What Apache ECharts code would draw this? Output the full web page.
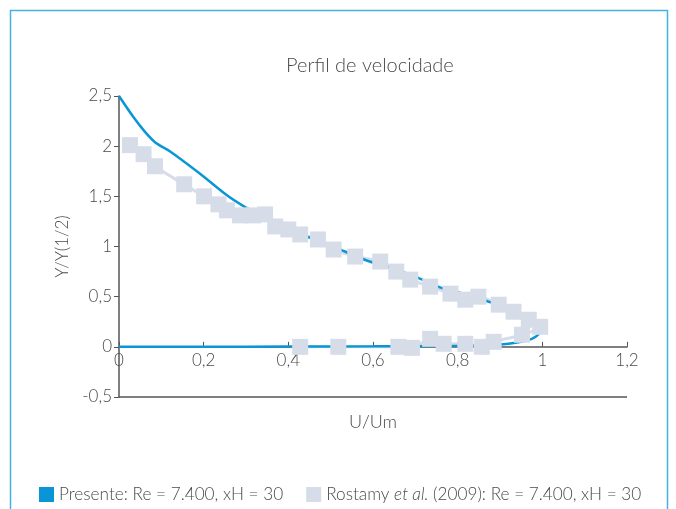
<!DOCTYPE html>
<html>
<head>
<meta charset="utf-8">
<script src="https://cdn.jsdelivr.net/npm/echarts@6/dist/echarts.min.js"></script>
<style>
html,body{margin:0;padding:0;background:#fff;}
#chart{width:676px;height:509px;}
</style>
</head>
<body>
<div id="chart"></div>
<script>
const titleText = 'Perfil de velocidade';
const xName = 'U/Um';
const yName = 'Y/Y(1/2)';
const seriesNames = ['Presente: Re = 7.400, xH = 30', 'Rostamy et al. (2009): Re = 7.400, xH = 30'];

const xMin = 0, xMax = 1.2, xStep = 0.2;
const yMin = -0.5, yMax = 2.5, yStep = 0.5;

const presenteX = [0, 0.034, 0.058, 0.085, 0.12, 0.19, 0.255, 0.295, 0.35, 0.40,
  0.45, 0.50, 0.534, 0.585, 0.64, 0.70, 0.76, 0.82, 0.88, 0.93,
  0.97, 0.995, 0.99, 0.975, 0.95, 0.92, 0.88, 0.80, 0.70, 0.60,
  0.40, 0.20, 0];
const presenteY = [2.5, 2.29, 2.16, 2.04, 1.95, 1.73, 1.51, 1.40, 1.27, 1.17,
  1.09, 1.01, 0.95, 0.86, 0.79, 0.70, 0.59, 0.52, 0.44, 0.35,
  0.26, 0.18, 0.12, 0.08, 0.05, 0.03, 0.015, 0.01, 0.007, 0.005,
  0.003, 0.001, 0];

const rostamyX = [0.026, 0.058, 0.085, 0.154, 0.201, 0.235, 0.255, 0.286, 0.317, 0.345,
  0.369, 0.40, 0.428, 0.47, 0.507, 0.558, 0.617, 0.655, 0.688, 0.735,
  0.783, 0.818, 0.849, 0.897, 0.932, 0.968, 0.995,
  0.952, 0.885, 0.857, 0.818, 0.767, 0.735, 0.692, 0.66, 0.518, 0.428];
const rostamyY = [2.01, 1.92, 1.80, 1.62, 1.50, 1.42, 1.36, 1.31, 1.31, 1.32,
  1.20, 1.17, 1.12, 1.07, 0.97, 0.90, 0.85, 0.75, 0.67, 0.60,
  0.53, 0.47, 0.50, 0.42, 0.35, 0.27, 0.20,
  0.12, 0.05, 0.00, 0.03, 0.03, 0.08, -0.01, 0.00, 0.00, 0.00];

const blue = '#0a96d6';
const light = '#d6dde9';
const textColor = '#4a4a4a';
const axisColor = '#555';
const FONT = 'Lato';

const GRID = {left: 119, right: 49, top: 96, bottom: 112};
const gridHeight = 509 - GRID.top - GRID.bottom;
// shift the x axis up so it crosses the y axis at 0
const xAxisOffset = -((0 - yMin) / (yMax - yMin)) * gridHeight;

const presenteData = presenteX.map((x, i) => [x, presenteY[i]]);
const rostamyData = rostamyX.map((x, i) => [x, rostamyY[i]]);
const fmt = v => String(Math.round(v * 10) / 10).replace('.', ',');

const chart = echarts.init(document.getElementById('chart'), null, {renderer: 'canvas'});
chart.setOption({
  animation: false,
  backgroundColor: '#fff',
  textStyle: {fontFamily: FONT},
  graphic: [{
    type: 'rect', silent: true, z: -1,
    shape: {x: 10.5, y: 10.5, width: 657, height: 530},
    style: {fill: 'none', stroke: '#45b3e0', lineWidth: 1.5}
  }],
  title: {
    text: titleText, left: 281, top: 51,
    textStyle: {fontFamily: FONT, fontWeight: 300, fontSize: 20, color: textColor}
  },
  legend: {
    left: 34, top: 481, itemWidth: 15, itemHeight: 15, itemGap: 23,
    data: [{name: seriesNames[0], icon: 'rect'}, {name: seriesNames[1], icon: 'rect'}],
    formatter: function (name) {
      if (name === seriesNames[1]) {
        return '{n|Rostamy }{i|et al.}{n| (2009): Re = 7.400, xH = 30}';
      }
      return '{n|' + name + '}';
    },
    textStyle: {
      fontFamily: FONT, fontSize: 17.2, color: textColor,
      rich: {
        n: {fontFamily: FONT, fontWeight: 300, fontSize: 17.2, color: textColor},
        i: {fontFamily: FONT, fontWeight: 300, fontStyle: 'italic', fontSize: 17.2, color: textColor}
      }
    }
  },
  grid: GRID,
  xAxis: {
    type: 'value', min: xMin, max: xMax, interval: xStep,
    position: 'bottom', offset: xAxisOffset,
    name: xName, nameLocation: 'middle', nameGap: 66,
    nameTextStyle: {fontFamily: FONT, fontWeight: 300, fontSize: 18, color: textColor, verticalAlign: 'top'},
    axisLine: {onZero: false, lineStyle: {color: axisColor, width: 1.5}},
    axisTick: {show: true, inside: true, length: 5, lineStyle: {color: axisColor}},
    axisLabel: {formatter: fmt, fontFamily: FONT, fontWeight: 300, fontSize: 17, color: textColor, margin: 5},
    splitLine: {show: false}
  },
  yAxis: {
    type: 'value', min: yMin, max: yMax, interval: yStep,
    name: yName, nameLocation: 'middle', nameGap: 48, nameRotate: 90,
    nameTextStyle: {fontFamily: FONT, fontWeight: 300, fontSize: 17, color: textColor},
    axisLine: {show: true, onZero: false, lineStyle: {color: axisColor, width: 1.5}},
    axisTick: {show: true, length: 5, lineStyle: {color: axisColor}},
    axisLabel: {formatter: fmt, fontFamily: FONT, fontWeight: 300, fontSize: 17, color: textColor, margin: 7},
    splitLine: {show: false}
  },
  series: [{
    name: seriesNames[1], type: 'line', data: rostamyData, z: 1,
    showSymbol: false, symbol: 'none', smooth: 0.3,
    lineStyle: {color: light, width: 3}, itemStyle: {color: light},
    markLine: {
      silent: true, symbol: 'none', label: {show: false},
      lineStyle: {color: axisColor, width: 1.5, type: 'solid'},
      data: [[{coord: [xMin, yMin]}, {coord: [xMax, yMin]}]]
    }
  }, {
    name: seriesNames[0], type: 'line', data: presenteData, z: 2,
    showSymbol: false, symbol: 'none', smooth: 0.3,
    lineStyle: {color: blue, width: 2.5}, itemStyle: {color: blue}
  }, {
    name: seriesNames[1], type: 'scatter', data: rostamyData, z: 3,
    symbol: 'rect', symbolSize: 16,
    itemStyle: {color: light, opacity: 1}
  }]
});
</script>
</body>
</html>
